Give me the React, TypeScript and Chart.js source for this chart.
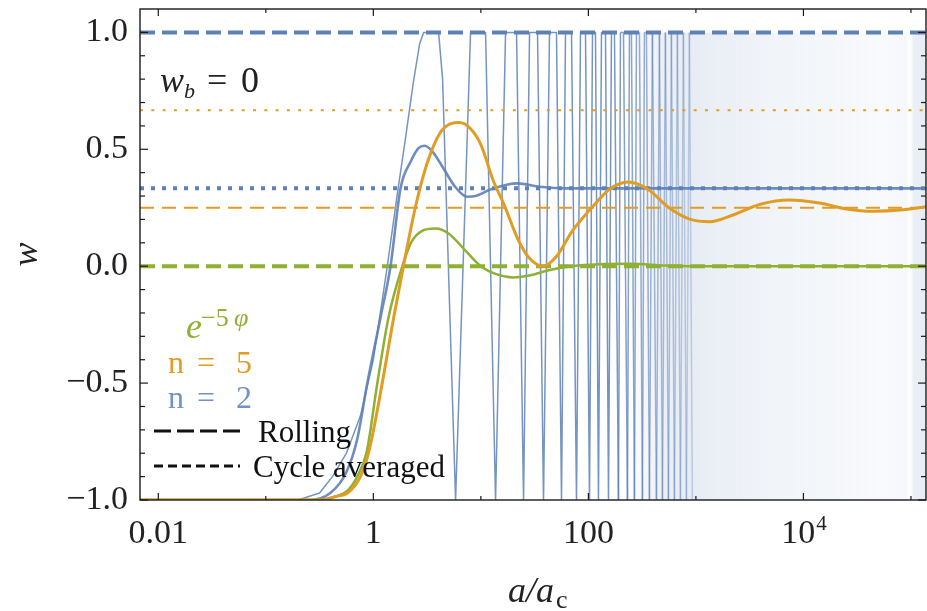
import React, { useEffect, useRef } from 'react';
import { Chart, registerables } from 'chart.js';

Chart.register(...registerables);

const WIDTH = 927;
const HEIGHT = 611;

// ---- axes ----
const xRange = [0.00676, 138000];
const yRange = [-1, 1.1];
const xTickValues = [0.01, 0.1, 1, 10, 100, 1000, 10000, 100000];
const xTickLabels = ['0.01', '', '1', '', '100', '', '10^4', ''];
const yTickValues = [-1.0, -0.9, -0.8, -0.7, -0.6, -0.5, -0.4, -0.3, -0.2, -0.1, 0, 0.1, 0.2, 0.3, 0.4, 0.5, 0.6, 0.7, 0.8, 0.9, 1.0];
const yTickLabels = ['−1.0', '', '', '', '', '−0.5', '', '', '', '', '0.0', '', '', '', '', '0.5', '', '', '', '', '1.0'];

// ---- n = 2, rolling (oscillating w) : a values and w values ----
const rollN2A = [
  0.00676, 0.1995, 0.3162, 0.4169, 0.5623, 0.7586, 1.0, 1.349, 1.66, 1.995, 2.344, 2.692, 2.938, 4.046, 4.406, 5.82,
  8.02, 11.06, 13.7, 16.97, 21.47, 24.94, 28.36, 33.65, 38.25, 43.49, 50.52, 56.23, 61.26, 69.66, 77.52,
  84.47, 94.0, 102.4, 109.2, 116.4, 124.1, 132.4, 144.2, 153.8, 163.9, 174.8, 190.4, 198.8, 212.0, 230.9,
  241.0, 251.5, 268.2, 279.9, 298.5, 318.3, 332.2, 346.7, 369.7, 394.2, 429.6, 458.0, 488.4, 520.6, 555.2,
  592.0, 631.2, 673.1, 717.6, 765.2, 815.9, 870.0, 927.6,
];
const rollN2W = [
  -1, -1, -0.97, -0.9, -0.8, -0.64, -0.4, 0, 0.3, 0.55, 0.78, 0.95, 1, 1, 0.8, -1,
  1, 1, -1, 1, 1, -1, 1, 1, -1, 1, 1, -1, 1, 1, -1,
  1, 1, -1, 1, 1, -1, 1, 1, -1, 1, 1, -1, 1, 1, -1,
  1, 1, -1, 1, 1, -1, 1, 1, -1, 1, -1, 1, -1, 1, -1,
  1, -1, 1, -1, 1, -1, 1, -1,
];

// ---- n = 2, cycle averaged ----
const avgN2A = [0.00676, 0.2512, 0.3981, 0.5623, 0.7079, 0.879, 1.169, 1.445, 1.791, 2.239, 2.63, 2.999, 3.548, 4.467, 5.754, 7.464, 8.913, 12.59, 21.78, 35.48, 63.1, 138000];
const avgN2W = [-1, -1, -0.97, -0.88, -0.74, -0.5, -0.217, 0, 0.333, 0.45, 0.505, 0.515, 0.49, 0.42, 0.34, 0.297, 0.3, 0.33, 0.354, 0.34, 0.333, 0.333];

// ---- n = 5 ----
const n5A = [0.00676, 0.3162, 0.4467, 0.5754, 0.7586, 0.912, 1.211, 1.549, 1.905, 2.455, 3.162, 4.169, 5.248, 6.31, 7.943, 10.0, 13.18, 16.22, 22.39, 28.18, 38.02, 50.12, 70.79, 112.2, 158.5, 234.4, 354.8, 562.3, 891.3, 1349, 2239, 3981, 7413, 14125, 25119, 44668, 79433, 138000];
const n5W = [-1, -1, -0.985, -0.97, -0.9, -0.79, -0.5, -0.217, 0, 0.25, 0.44, 0.57, 0.61, 0.615, 0.59, 0.52, 0.36, 0.27, 0.11, 0.035, 0, 0.04, 0.15, 0.26, 0.33, 0.36, 0.33, 0.25, 0.2, 0.19, 0.22, 0.265, 0.283, 0.27, 0.245, 0.235, 0.24, 0.254];

// ---- e^{-5 phi} ----
const expA = [0.00676, 0.3162, 0.4467, 0.5754, 0.7079, 0.871, 1.089, 1.387, 1.862, 2.239, 2.818, 3.802, 5.012, 7.079, 10.0, 14.13, 19.95, 28.18, 44.67, 70.79, 125.9, 251.2, 501.2, 1000, 138000];
const expW = [-1, -1, -0.985, -0.96, -0.9, -0.79, -0.5, -0.217, 0, 0.1, 0.15, 0.161, 0.14, 0.07, 0, -0.035, -0.048, -0.04, -0.015, 0, 0.008, 0.01, 0.003, 0, 0];

// ---- asymptotic levels ----
const levelN2Rolling = 1;
const levelN2Avg = 0.3333;
const levelN5Avg = 0.6667;
const levelN5Rolling = 0.25;
const levelExpRolling = 0;

// extent of the unresolved fast oscillation band (n = 2 rolling)
const shadeA = [220, 138000];
const shadeW = [1, 1];

// ---- styles ----
const BLUE = '#5E81B5';
const ORANGE = '#E19C24';
const GREEN = '#8FB032';
const SERIF = '"Liberation Serif", "DejaVu Serif", serif';
const shadeStops: [number, number][] = [
  [220, 0], [470, 0.11], [893, 0.15], [1690, 0.12], [4930, 0.09], [17800, 0.065], [52000, 0.045],
  [88700, 0.06], [98700, 0.0], [105200, 0.12], [138000, 0.15],
];

const pts = (A: number[], Wv: number[]) => A.map((a, i) => ({ x: a, y: Wv[i] }));
const hline = (v: number) => [{ x: xRange[0], y: v }, { x: xRange[1], y: v }];

function txt(ctx: CanvasRenderingContext2D, s: string, x: number, y: number, font: string, color: string, align: CanvasTextAlign = 'left') {
  ctx.font = font;
  ctx.fillStyle = color;
  ctx.textAlign = align;
  ctx.textBaseline = 'alphabetic';
  ctx.fillText(s, x, y);
}

const decor = {
  id: 'decor',
  afterDatasetsDraw(chart: any) {
    const ctx: CanvasRenderingContext2D = chart.ctx;
    const ca = chart.chartArea;
    const xs = chart.scales.x;
    const ys = chart.scales.y;
    ctx.save();
    const seg = (x1: number, y1: number, x2: number, y2: number) => {
      ctx.beginPath(); ctx.moveTo(x1, y1); ctx.lineTo(x2, y2); ctx.stroke();
    };
    // frame
    ctx.strokeStyle = '#1a1a1a';
    ctx.lineWidth = 1.4;
    ctx.setLineDash([]);
    ctx.strokeRect(ca.left, ca.top, ca.right - ca.left, ca.bottom - ca.top);
    // inward ticks
    ctx.lineWidth = 1.2;
    xTickValues.forEach((v, i) => {
      const px = xs.getPixelForValue(v);
      const len = xTickLabels[i] ? 7 : 4;
      seg(px, ca.bottom, px, ca.bottom - len);
      seg(px, ca.top, px, ca.top + len);
    });
    yTickValues.forEach((v, i) => {
      const py = ys.getPixelForValue(v);
      const len = yTickLabels[i] ? 8 : 5;
      seg(ca.left, py, ca.left + len, py);
      seg(ca.right, py, ca.right - len, py);
    });
    // x tick labels
    xTickValues.forEach((v, i) => {
      const lab = xTickLabels[i];
      if (!lab) return;
      const px = xs.getPixelForValue(v);
      const base = ca.bottom + 43;
      if (lab.includes('^')) {
        const [b, e] = lab.split('^');
        ctx.font = `34px ${SERIF}`;
        const w1 = ctx.measureText(b).width;
        ctx.font = `21px ${SERIF}`;
        const w2 = ctx.measureText(e).width;
        const x0 = px - (w1 + w2) / 2;
        txt(ctx, b, x0, base, `34px ${SERIF}`, '#222');
        txt(ctx, e, x0 + w1 + 1, base - 13, `21px ${SERIF}`, '#222');
      } else {
        txt(ctx, lab, px, base, `34px ${SERIF}`, '#222', 'center');
      }
    });
    // axis titles
    const cx = (ca.left + ca.right) / 2;
    txt(ctx, 'a/a', cx - 25, 602, `italic 36px ${SERIF}`, '#222');
    ctx.font = `italic 36px ${SERIF}`;
    const wa = ctx.measureText('a/a').width;
    txt(ctx, 'c', cx - 25 + wa + 2, 608, `26px ${SERIF}`, '#222');
    ctx.save();
    ctx.translate(37, (ca.top + ca.bottom) / 2);
    ctx.rotate(-Math.PI / 2);
    txt(ctx, 'w', 0, 0, `italic 36px ${SERIF}`, '#222', 'center');
    ctx.restore();
    // w_b = 0
    txt(ctx, 'w', 160, 92, `italic 36px ${SERIF}`, '#222');
    txt(ctx, 'b', 184, 98, `italic 22px ${SERIF}`, '#222');
    txt(ctx, '=', 207, 92, `36px ${SERIF}`, '#222');
    txt(ctx, '0', 241, 92, `36px ${SERIF}`, '#222');
    // legend labels
    txt(ctx, 'e', 186, 338, `italic 36px ${SERIF}`, GREEN);
    txt(ctx, '−5', 201, 326, `26px ${SERIF}`, GREEN);
    txt(ctx, 'φ', 234, 326, `italic 26px ${SERIF}`, GREEN);
    txt(ctx, 'n', 168, 373, `32px ${SERIF}`, ORANGE);
    txt(ctx, '=', 197, 373, `32px ${SERIF}`, ORANGE);
    txt(ctx, '5', 236, 373, `32px ${SERIF}`, ORANGE);
    txt(ctx, 'n', 168, 408, `32px ${SERIF}`, '#6f92c8');
    txt(ctx, '=', 197, 408, `32px ${SERIF}`, '#6f92c8');
    txt(ctx, '2', 236, 408, `32px ${SERIF}`, '#6f92c8');
    // line style legend
    ctx.strokeStyle = '#111';
    ctx.lineWidth = 3;
    ctx.setLineDash([17, 6]);
    seg(154, 431, 243, 431);
    ctx.setLineDash([9, 5]);
    seg(154, 466, 240, 466);
    ctx.setLineDash([]);
    txt(ctx, 'Rolling', 258, 442, `31px ${SERIF}`, '#111');
    txt(ctx, 'Cycle averaged', 253, 477, `31px ${SERIF}`, '#111');
    ctx.restore();
  },
};

export default function App() {
  const ref = useRef<HTMLCanvasElement | null>(null);
  useEffect(() => {
    if (!ref.current) return;
    const chart = new Chart(ref.current, {
      type: 'line',
      data: {
        datasets: [
          {
            label: 'oscillation band',
            data: pts(shadeA, shadeW),
            fill: { value: -1 },
            borderWidth: 0,
            pointRadius: 0,
            order: 20,
            backgroundColor: (c: any) => {
              const ch = c.chart;
              const ca = ch.chartArea;
              const xs = ch.scales.x;
              if (!ca || !xs) return 'rgba(0,0,0,0)';
              const x0 = xs.getPixelForValue(shadeA[0]);
              const x1 = ca.right;
              const g = ch.ctx.createLinearGradient(x0, 0, x1, 0);
              shadeStops.forEach(([a, al]) => {
                const p = Math.min(1, Math.max(0, (xs.getPixelForValue(a) - x0) / (x1 - x0)));
                g.addColorStop(p, `rgba(94,129,181,${al})`);
              });
              return g;
            },
          } as any,
          {
            label: 'n = 2 rolling',
            data: pts(rollN2A, rollN2W),
            borderColor: 'rgba(94,129,181,0.85)',
            borderWidth: 1.5,
            tension: 0,
            pointRadius: 0,
            borderJoinStyle: 'round',
            order: 15,
            segment: {
              borderColor: (c: any) => {
                const l = Math.log10(c.p0.parsed.x);
                const al = l < 2.2 ? 0.85 : Math.max(0.3, 0.85 - (l - 2.2) * 0.7);
                return `rgba(94,129,181,${al})`;
              },
            },
          } as any,
          { label: 'n=5 avg', data: hline(levelN5Avg), borderColor: ORANGE, borderWidth: 2, borderDash: [3, 8.3], pointRadius: 0, order: 12 },
          { label: 'n=5 rolling', data: hline(levelN5Rolling), borderColor: ORANGE, borderWidth: 2, borderDash: [14, 8], pointRadius: 0, order: 12 },
          { label: 'n=2 rolling level', data: hline(levelN2Rolling), borderColor: BLUE, borderWidth: 4, borderDash: [15, 7], pointRadius: 0, order: 11 },
          { label: 'n=2 avg level', data: hline(levelN2Avg), borderColor: BLUE, borderWidth: 4, borderDash: [4, 7], pointRadius: 0, order: 11 },
          { label: 'exp level', data: hline(levelExpRolling), borderColor: GREEN, borderWidth: 4, borderDash: [15, 7], pointRadius: 0, order: 11 },
          { label: 'n = 2 avg', data: pts(avgN2A, avgN2W), borderColor: 'rgba(94,129,181,0.9)', borderWidth: 2.6, cubicInterpolationMode: 'monotone', pointRadius: 0, order: 3 },
          { label: 'exp', data: pts(expA, expW), borderColor: GREEN, borderWidth: 2.5, cubicInterpolationMode: 'monotone', pointRadius: 0, order: 2 },
          { label: 'n = 5', data: pts(n5A, n5W), borderColor: ORANGE, borderWidth: 3, cubicInterpolationMode: 'monotone', pointRadius: 0, order: 1 },
        ],
      },
      options: {
        responsive: false,
        animation: false,
        devicePixelRatio: 1,
        layout: { padding: { top: 9, right: 1, left: 0, bottom: 0 } },
        plugins: { legend: { display: false }, tooltip: { enabled: false } },
        scales: {
          x: {
            type: 'logarithmic',
            min: xRange[0],
            max: xRange[1],
            grid: { display: false, drawTicks: false },
            border: { display: false },
            ticks: { display: false },
            afterBuildTicks: (s: any) => { s.ticks = xTickValues.map((v) => ({ value: v })); },
            afterFit: (s: any) => { s.height = 111; s.paddingLeft = 0; s.paddingRight = 0; },
          },
          y: {
            type: 'linear',
            min: yRange[0],
            max: yRange[1],
            grid: { display: false, drawTicks: false },
            border: { display: false },
            ticks: {
              autoSkip: false,
              padding: 12,
              color: '#222',
              font: { family: SERIF, size: 34 },
              callback: (_v: any, i: number) => yTickLabels[i] ?? '',
            },
            afterBuildTicks: (s: any) => { s.ticks = yTickValues.map((v) => ({ value: v })); },
            afterFit: (s: any) => { s.width = 140; s.paddingTop = 0; s.paddingBottom = 0; },
          },
        },
      } as any,
      plugins: [decor],
    });
    return () => chart.destroy();
  }, []);
  return (
    <div style={{ position: 'fixed', left: 0, top: 0, width: WIDTH, height: HEIGHT, background: '#fff' }}>
      <canvas ref={ref} width={WIDTH} height={HEIGHT} style={{ width: WIDTH, height: HEIGHT, display: 'block' }} />
    </div>
  );
}
